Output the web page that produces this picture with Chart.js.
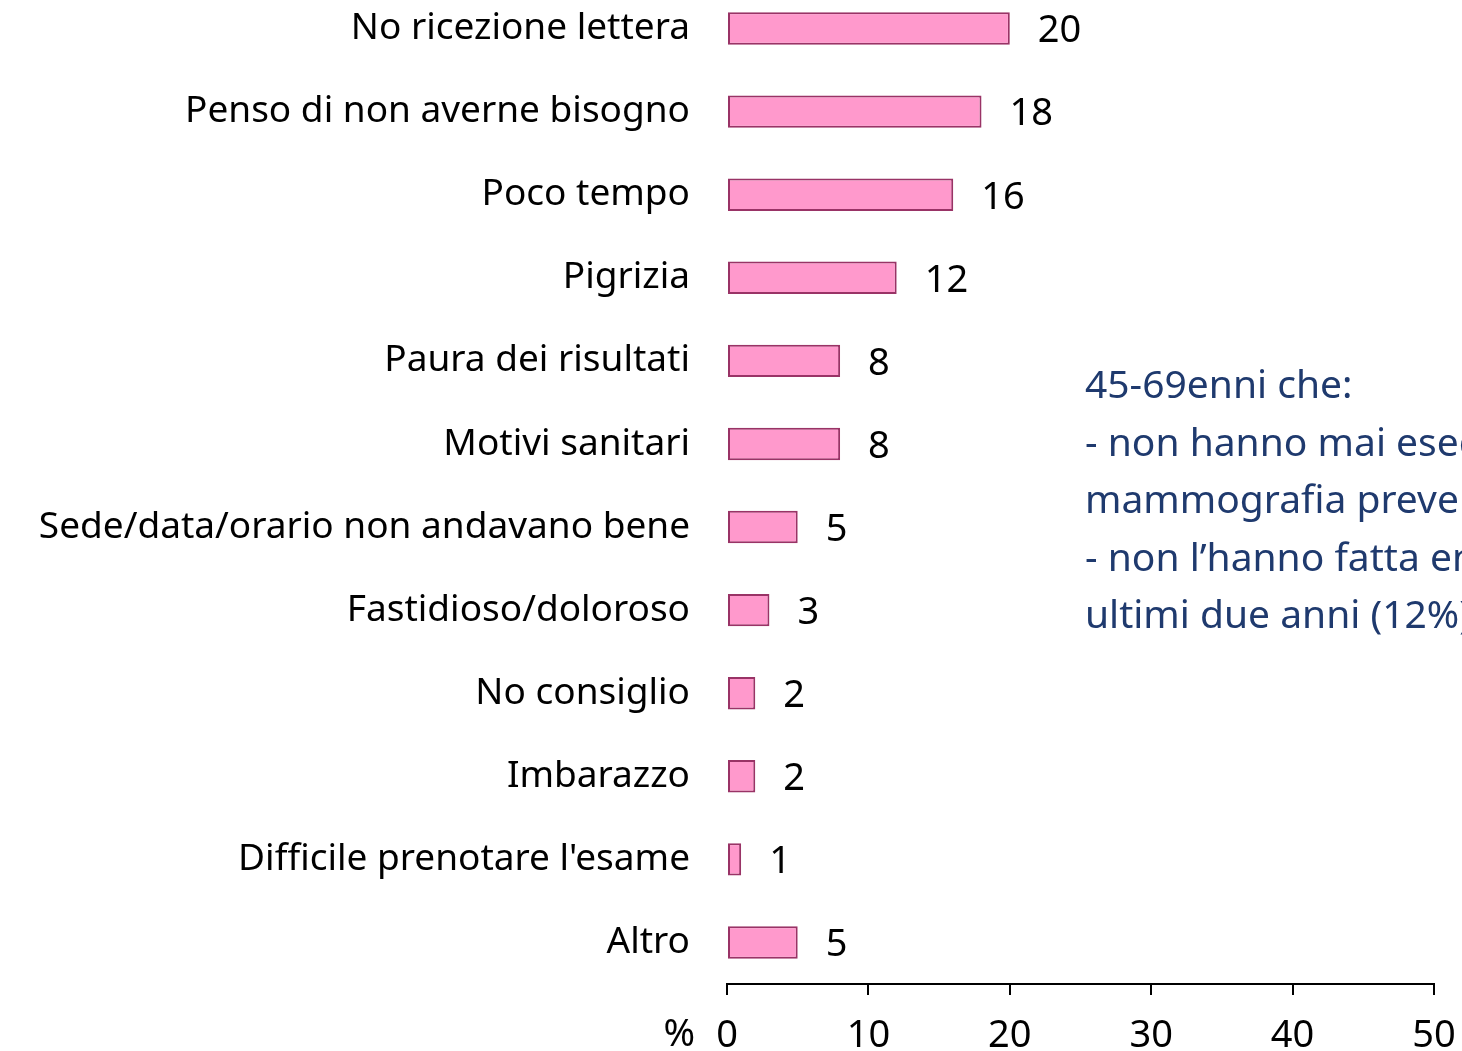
<!DOCTYPE html>
<html>
<head>
<meta charset="utf-8">
<script src="https://cdn.jsdelivr.net/npm/chart.js@4.4.1/dist/chart.umd.min.js"></script>
<style>
  html, body { margin: 0; padding: 0; background: #fff; overflow: hidden; }
  #wrap { position: relative; width: 1462px; height: 1051px; overflow: hidden; }
  #box { position: absolute; left: 0; top: -13px; width: 1462px; height: 1064px; }
  #note {
    position: absolute; left: 1085px; top: 354px; white-space: nowrap;
    font-family: "Noto Sans", sans-serif; font-size: 39px; line-height: 57.5px;
    color: #1f3a6e;
  }
</style>
</head>
<body>
<div id="wrap">
  <div id="box"><canvas id="chart" width="1462" height="1064"></canvas></div>
  <div id="note">45-69enni che:<br>- non hanno mai eseguito una<br>mammografia preventiva<br>- non l’hanno fatta entro gli<br>ultimi due anni (12%)</div>
</div>
<script>
// reasons for skipping the screening, % of women
var categories = [
  'No ricezione lettera',
  'Penso di non averne bisogno',
  'Poco tempo',
  'Pigrizia',
  'Paura dei risultati',
  'Motivi sanitari',
  'Sede/data/orario non andavano bene',
  'Fastidioso/doloroso',
  'No consiglio',
  'Imbarazzo',
  "Difficile prenotare l'esame",
  'Altro'
];
var values = [20, 18, 16, 12, 8, 8, 5, 3, 2, 2, 1, 5];
var xTicks = [0, 10, 20, 30, 40, 50];

var font = '"Noto Sans", sans-serif';

// value labels to the right of each bar, plus the "%" unit before the 0 tick
var barLabels = {
  id: 'barLabels',
  afterDatasetsDraw: function(chart) {
    var ctx = chart.ctx;
    var meta = chart.getDatasetMeta(0);
    ctx.save();
    ctx.fillStyle = '#000';
    ctx.font = '38px ' + font;
    ctx.textAlign = 'left';
    ctx.textBaseline = 'middle';
    meta.data.forEach(function(bar, i) {
      ctx.fillText(String(values[i]), bar.x + 28, bar.y + 3);
    });
    var xs = chart.scales.x;
    ctx.textAlign = 'right';
    ctx.fillText('%', xs.getPixelForValue(0) - 32, xs.top + 51);
    ctx.restore();
  }
};

var ctx = document.getElementById('chart').getContext('2d');
var chart = new Chart(ctx, {
  type: 'bar',
  data: {
    labels: categories,
    datasets: [{
      data: values,
      backgroundColor: '#ff99cc',
      borderColor: '#993366',
      borderWidth: 2,
      borderSkipped: false,
      barPercentage: 0.39,
      categoryPercentage: 1
    }]
  },
  options: {
    indexAxis: 'y',
    responsive: false,
    animation: false,
    layout: { padding: { left: 0, right: 28, top: 0, bottom: 0 } },
    plugins: {
      legend: { display: false },
      tooltip: { enabled: false }
    },
    scales: {
      x: {
        min: 0,
        max: 50,
        afterBuildTicks: function(scale) {
          scale.ticks = xTicks.map(function(v) { return { value: v }; });
        },
        afterFit: function(scale) {
          scale.height = 67;
          scale.paddingLeft = 0;
          scale.paddingRight = 0;
        },
        grid: { drawOnChartArea: false, drawTicks: true, tickLength: 11, color: '#000', lineWidth: 2 },
        border: { display: true, color: '#000', width: 2 },
        ticks: { color: '#000', font: { family: font, size: 38 }, padding: 18, maxRotation: 0 }
      },
      y: {
        afterFit: function(scale) {
          scale.width = 727;
          scale.paddingTop = 0;
          scale.paddingBottom = 0;
        },
        grid: { display: false, drawTicks: false },
        border: { display: false },
        ticks: { color: '#000', font: { family: font, size: 37 }, padding: 37 }
      }
    }
  },
  plugins: [barLabels]
});
</script>
</body>
</html>
